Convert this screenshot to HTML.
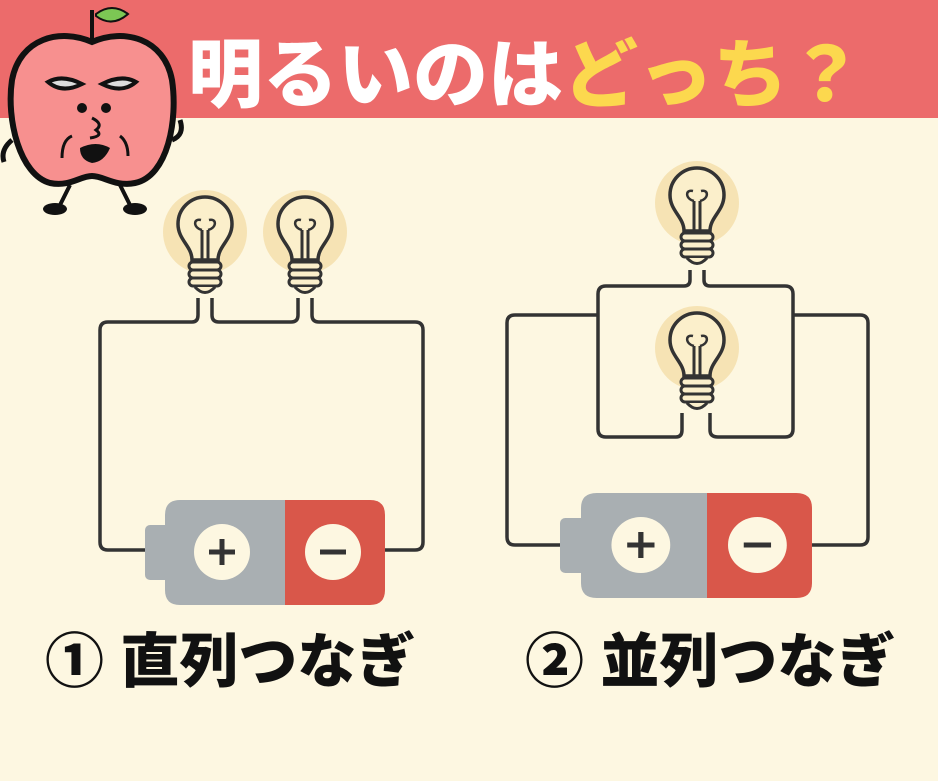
<!DOCTYPE html>
<html><head><meta charset="utf-8"><style>
html,body{margin:0;padding:0;background:#FDF7E1;}
svg{display:block}
</style></head><body>
<svg width="938" height="781" viewBox="0 0 938 781" xmlns="http://www.w3.org/2000/svg">
<defs>
<g id="bulb">
<circle cx="0" cy="0" r="42" fill="#F6E3B4"/>
<path d="M-13,28 C-13,14 -27,8 -27,-8 A27,27 0 1 1 27,-8 C27,8 13,14 13,28 Z" fill="#FBEFCB" stroke="#333" stroke-width="3.5"/>
<path d="M-3,28 L-3,-2 M3,28 L3,-2" stroke="#333" stroke-width="3" fill="none"/>
<path d="M-3,-2 C-12,-4 -12,-14 -4,-12 M3,-2 C12,-4 12,-14 4,-12" stroke="#333" stroke-width="2.5" fill="none"/>
<g fill="#FBEFCB" stroke="#333" stroke-width="3">
<rect x="-16" y="30" width="32" height="8" rx="4"/>
<rect x="-16" y="38" width="32" height="8" rx="4"/>
<rect x="-16" y="46" width="32" height="8" rx="4"/>
</g>
<path d="M-10,55 Q0,66 10,55" fill="#FBEFCB" stroke="#333" stroke-width="3"/>
</g>
<g id="batt">
<rect x="0" y="25" width="26" height="55" rx="5" fill="#A9AFB2"/>
<path d="M20,15 Q20,0 35,0 L140,0 L140,105 L35,105 Q20,105 20,90 Z" fill="#A9AFB2"/>
<path d="M140,0 L225,0 Q240,0 240,15 L240,90 Q240,105 225,105 L140,105 Z" fill="#D9574A"/>
<circle cx="77" cy="52" r="28" fill="#FDF7E1"/>
<circle cx="188" cy="52" r="28" fill="#FDF7E1"/>
<path d="M64,52 H90 M77,39 V65" stroke="#333" stroke-width="5"/>
<path d="M175,52 H201" stroke="#333" stroke-width="5"/>
</g>
</defs>
<rect width="938" height="781" fill="#FDF7E1"/>
<rect x="0" y="0" width="938" height="118" fill="#EC6B6B"/>
<text x="188" y="101" font-family="'Liberation Sans','Noto Sans CJK JP',sans-serif" font-weight="900" font-size="75" fill="#fff">明るいのは<tspan fill="#FCD84E">どっち？</tspan></text>

<!-- apple -->
<path d="M92,40 L92,10" stroke="#111" stroke-width="4"/>
<path d="M96,14 Q112,2 128,14 Q112,28 96,16 Z" fill="#7CC754" stroke="#111" stroke-width="2"/>
<path d="M92,42 C60,28 20,38 12,80 C6,120 20,175 50,183 C70,187 80,176 92,176 C104,176 115,187 135,183 C168,176 178,120 172,80 C164,38 124,28 92,42 Z" fill="#F7908F" stroke="#111" stroke-width="6"/>
<path d="M48,82 Q62,74 82,84 Q62,94 48,82 Z M102,84 Q122,74 136,82 Q122,94 102,84 Z" fill="#ddd" stroke="#111" stroke-width="4"/>
<circle cx="82" cy="108" r="5" fill="#111"/><circle cx="106" cy="108" r="5" fill="#111"/>
<path d="M92,118 Q104,124 96,130 Q104,136 90,138" stroke="#111" stroke-width="3" fill="none"/>
<path d="M80,148 Q96,140 110,148 Q104,162 92,163 Q80,160 80,148 Z" fill="#111"/>
<path d="M62,158 Q62,140 72,136 M120,136 Q128,142 128,156" stroke="#111" stroke-width="3" fill="none"/>
<path d="M70,185 L60,205 M120,185 L130,205" stroke="#111" stroke-width="4"/>
<ellipse cx="55" cy="209" rx="12" ry="6" fill="#111"/><ellipse cx="135" cy="209" rx="12" ry="6" fill="#111"/>
<path d="M172,140 Q185,135 180,120 M12,140 Q0,150 4,162" stroke="#111" stroke-width="5" fill="none"/>

<!-- circuit 1 -->
<g fill="none" stroke="#333" stroke-width="3.5" stroke-linejoin="round">
<path d="M145,550 H108 Q100,550 100,542 V330 Q100,322 108,322 H192 Q198,322 198,315 V298"/>
<path d="M212,298 V315 Q212,322 219,322 H291 Q298,322 298,315 V298"/>
<path d="M312,298 V315 Q312,322 319,322 H415 Q423,322 423,330 V542 Q423,550 415,550 H385"/>
</g>
<use href="#bulb" x="205" y="232"/>
<use href="#bulb" x="305" y="232"/>
<use href="#batt" x="145" y="500"/>

<!-- circuit 2 -->
<g fill="none" stroke="#333" stroke-width="3.5" stroke-linejoin="round">
<path d="M560,545 H515 Q507,545 507,537 V323 Q507,315 515,315 H598"/>
<path d="M812,545 H860 Q868,545 868,537 V323 Q868,315 860,315 H793"/>
<path d="M690,270 V280 Q690,286 684,286 H606 Q598,286 598,294 V429 Q598,437 606,437 H676 Q682,437 682,430 V413"/>
<path d="M704,270 V280 Q704,286 710,286 H785 Q793,286 793,294 V429 Q793,437 785,437 H718 Q710,437 710,430 V413"/>
</g>
<use href="#bulb" x="697" y="203"/>
<use href="#bulb" x="697" y="348"/>
<use href="#batt" transform="translate(560,493) scale(1.05,1)"/>

<g font-family="'Liberation Sans','Noto Sans CJK JP',sans-serif" font-weight="900" font-size="59" fill="#111">
<text x="45" y="682">① 直列つなぎ</text>
<text x="525" y="682">② 並列つなぎ</text>
</g>
</svg>
</body></html>
